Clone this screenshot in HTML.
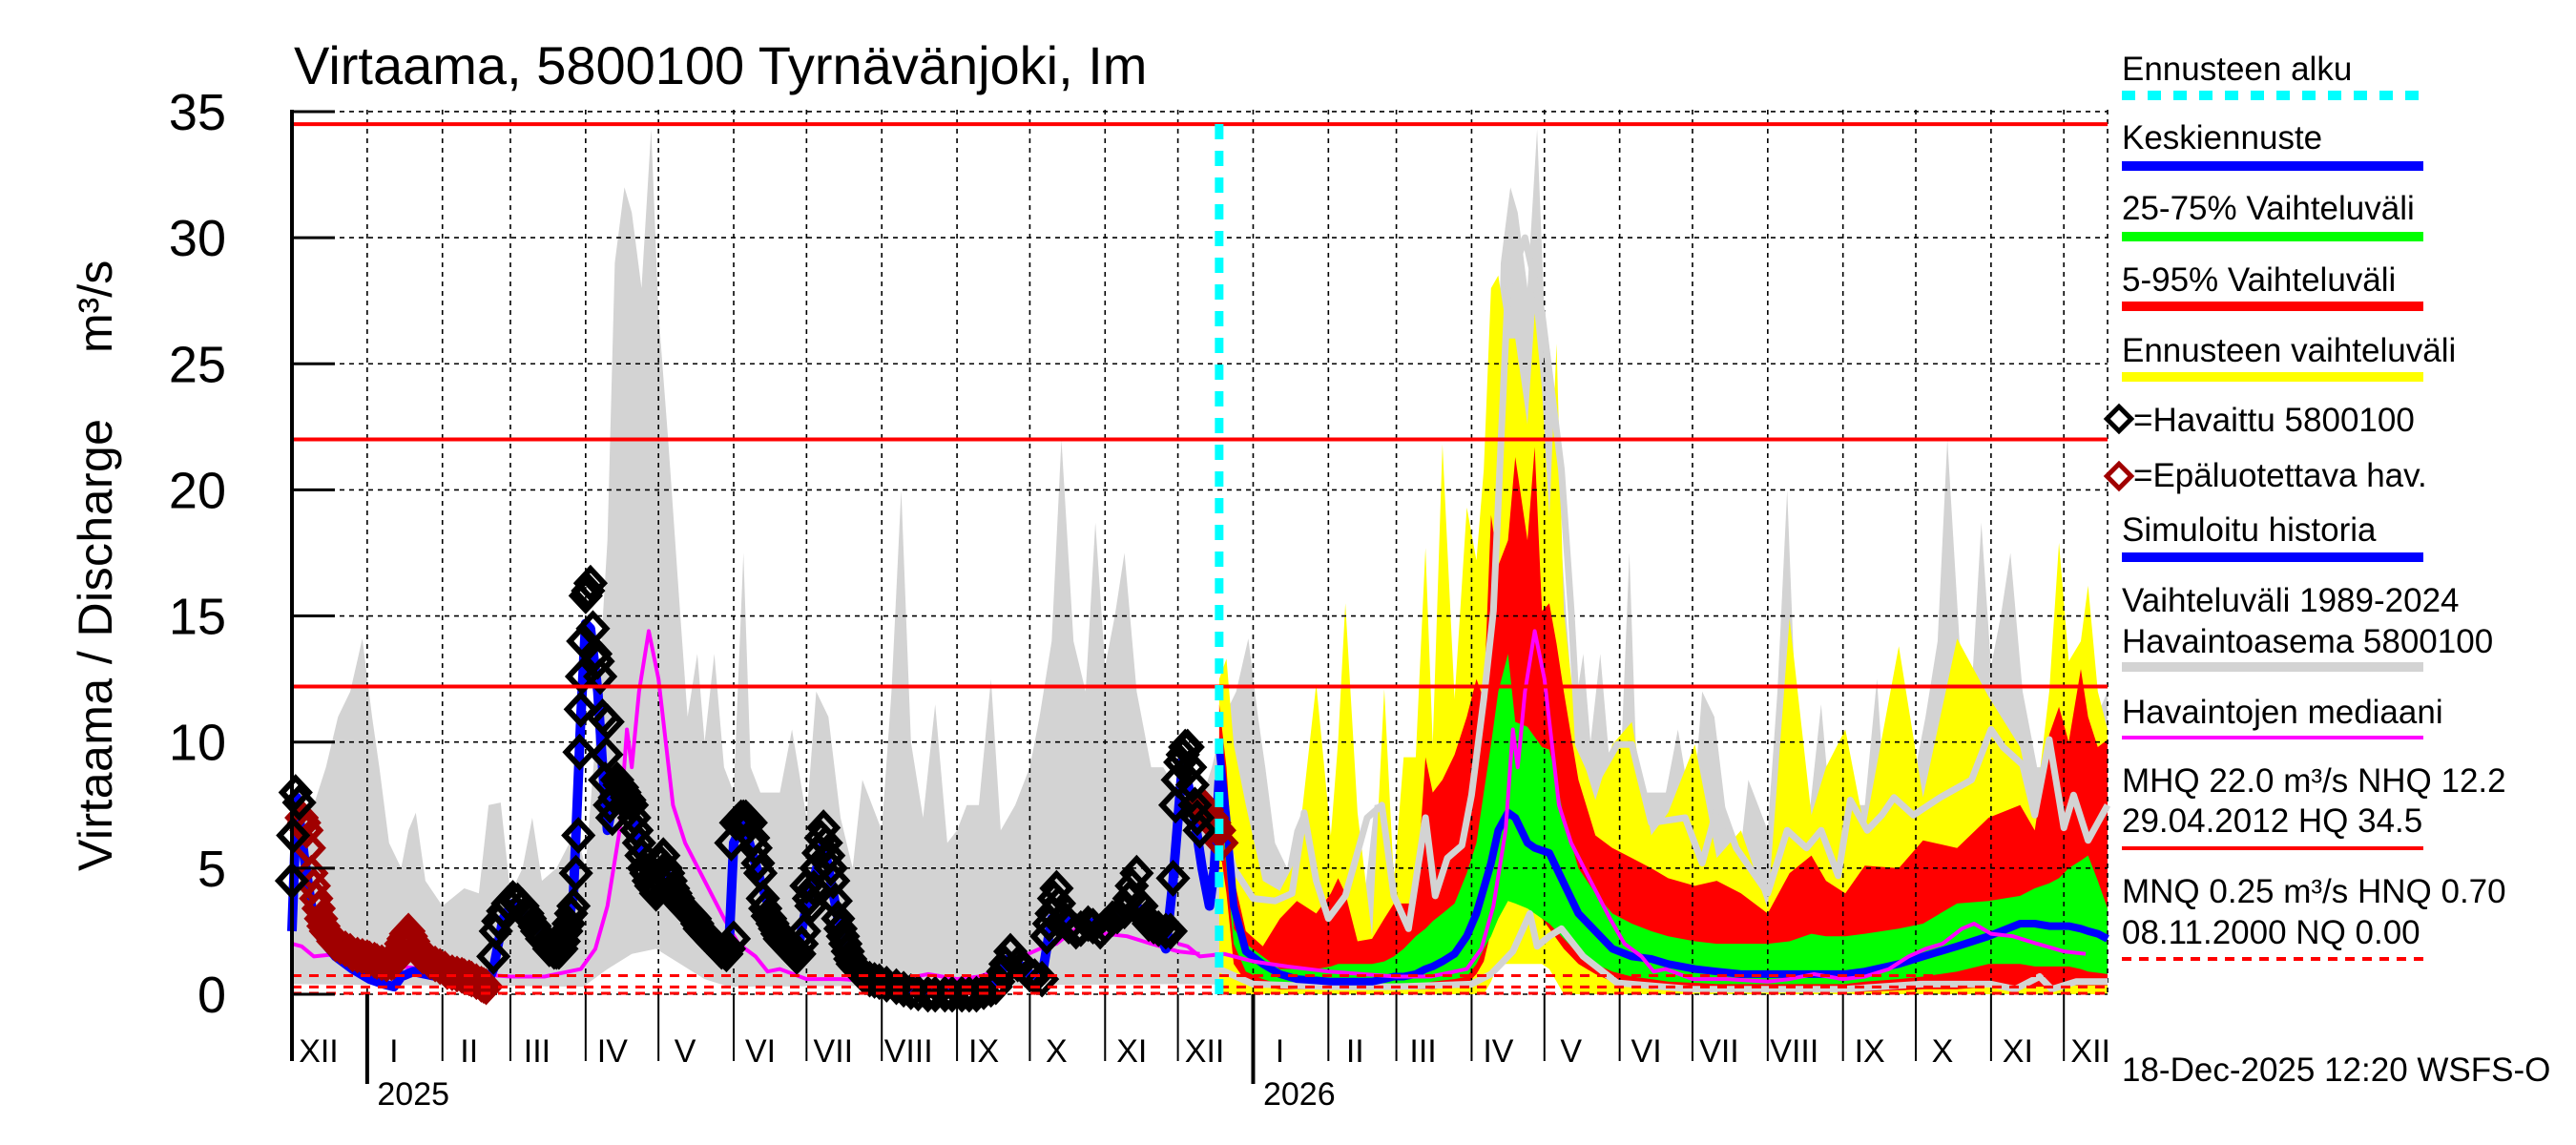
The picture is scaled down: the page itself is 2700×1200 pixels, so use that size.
<!DOCTYPE html>
<html><head><meta charset="utf-8"><title>Virtaama 5800100 Tyrnävänjoki</title>
<style>html,body{margin:0;padding:0;background:#fff;}svg{display:block;font-family:"Liberation Sans",Arial,sans-serif;}</style>
</head><body>
<svg id="chart" xmlns="http://www.w3.org/2000/svg" width="2700" height="1200" viewBox="0 0 2700 1200">
<rect x="0" y="0" width="2700" height="1200" fill="#fff"/>
<text x="308" y="88" font-size="56">Virtaama, 5800100 Tyrnävänjoki, Im</text>
<text transform="translate(117,913) rotate(-90)" font-size="50" textLength="474">Virtaama / Discharge</text>
<text transform="translate(117,370) rotate(-90)" font-size="50">m³/s</text>
<g id="plot"></g>
<g id="legend" font-size="35">
<text x="2224" y="84">Ennusteen alku</text>
<line x1="2224" y1="100" x2="2540" y2="100" stroke="#00ffff" stroke-width="10" stroke-dasharray="14,13"/>
<text x="2224" y="156">Keskiennuste</text>
<line x1="2224" y1="174" x2="2540" y2="174" stroke="#0000ff" stroke-width="10"/>
<text x="2224" y="230">25-75% Vaihteluväli</text>
<line x1="2224" y1="248" x2="2540" y2="248" stroke="#00ff00" stroke-width="10"/>
<text x="2224" y="305">5-95% Vaihteluväli</text>
<line x1="2224" y1="321" x2="2540" y2="321" stroke="#ff0000" stroke-width="10"/>
<text x="2224" y="379">Ennusteen vaihteluväli</text>
<line x1="2224" y1="395" x2="2540" y2="395" stroke="#ffff00" stroke-width="10"/>
<rect x="2212" y="430" width="18" height="18" transform="rotate(45 2221 439)" fill="none" stroke="#000" stroke-width="5"/>
<text x="2236" y="452">=Havaittu 5800100</text>
<rect x="2212" y="490" width="18" height="18" transform="rotate(45 2221 499)" fill="none" stroke="#a00000" stroke-width="5"/>
<text x="2236" y="510">=Epäluotettava hav.</text>
<text x="2224" y="567">Simuloitu historia</text>
<line x1="2224" y1="584" x2="2540" y2="584" stroke="#0000ff" stroke-width="10"/>
<text x="2224" y="641">Vaihteluväli 1989-2024</text>
<text x="2224" y="684">Havaintoasema 5800100</text>
<line x1="2224" y1="699" x2="2540" y2="699" stroke="#d3d3d3" stroke-width="10"/>
<text x="2224" y="758">Havaintojen mediaani</text>
<line x1="2224" y1="773" x2="2540" y2="773" stroke="#ff00ff" stroke-width="4"/>
<text x="2224" y="830">MHQ 22.0 m³/s NHQ 12.2</text>
<text x="2224" y="872">29.04.2012 HQ 34.5</text>
<line x1="2224" y1="889" x2="2540" y2="889" stroke="#ff0000" stroke-width="4"/>
<text x="2224" y="946">MNQ 0.25 m³/s HNQ 0.70</text>
<text x="2224" y="989">08.11.2000 NQ 0.00</text>
<line x1="2224" y1="1005" x2="2540" y2="1005" stroke="#ff0000" stroke-width="4" stroke-dasharray="10,8"/>
<text x="2224" y="1133">18-Dec-2025 12:20 WSFS-O</text>
</g>
</svg>
<script>
// Days counted from 2024-12-01
const climDays = [0,4,9,14,19,24,29,33,36,40,45,48,51,55,62,71,77,81,86,90,95,99,103,109,117,121,125,130,133,137,140,144,148,151,155,160,163,167,170,174,178,182,186,189,193,201,206,212,216,221,226,231,235,243,247,251,255,260,265,270,274,278,283,288,292,298,304,308,313,317,322,327,331,335,339,343,348,354,359,365];
const climMax = [6.5,7.3,7.5,9,11,12,14.1,11,9,6,5,6.5,7.2,4.5,3.5,4.2,4,7.5,7.6,4,5,7,4.5,5,6.5,5,10,18,29,32,31,28,34.3,27,22,15,11,13.5,10,13.5,9,8,17.5,9,8,8,10.5,7,12,11,7,5,8.5,6.5,12,20,10,7,11.5,6,6.5,7.5,7.5,12.5,6.5,7.5,9,11,14,22,14,12,18.7,13,15,17.5,12,9,9,8];
const climMinDays = [0,120,130,140,150,160,170,180,365];
const climMin = [0.4,0.3,1.0,1.6,1.8,1.2,0.6,0.3,0.4];
const medDays = [0,4,9,19,31,45,62,76,90,104,119,125,130,135,138,140,143,147,151,154,157,162,170,178,184,191,196,201,212,226,243,252,262,274,283,293,301,308,315,323,328,335,344,354,365,374];
const medVals = [2.0,1.9,1.5,1.6,1.3,1.1,0.9,0.8,0.7,0.7,1.0,1.8,3.5,6.5,10.5,9,12,14.4,12.5,10,7.5,6,4.5,3,2.0,1.5,0.9,1.0,0.6,0.6,0.5,0.6,0.8,0.6,0.7,1.0,1.5,1.8,2.0,2.6,2.8,2.4,2.3,2.0,1.7,1.6];
const obsDays = [0,0.5,1.5,3,83,84,85,87,89,91,93,95,97,98,100,101,103,105,106,108,109,110,111,112,113,114,115,116,117,118,118.5,119,119.5,120,121,122,123,124,125,126,127,128,129,129.5,130,131,132,133,134,135,136,137,138,139,140,141,142,143,144,145,146,147,148,149,150,151,152,153,154,155,156,157,158,159,160,161,162,163,164,165,166,167,168,169,170,171,172,173,174,175,176,177,178,179,180,181,182,183,184,185,186,187,188,189,190,191,192,193,194,195,196,197,198,199,200,201,202,203,204,205,206,207,208,209,210,211,212,213,214,215,216,217,218,219,220,221,222,223,224,225,226,227,228,229,230,231,232,233,234,235,236,238,240,242,245,249,252,255,258,262,265,269,272,276,279,282,285,288,290,291,293,294,296,299,302,304,306,309,311,312,313,314,315,316,318,320,323,325,328,330,333,335,338,340,343,345,346,348,350,352,353,355,357,360,362,363,364,365,366,367,368,369,370,371,372,373,374];
const obsVals = [4.5,6.3,8.0,7.6,1.5,2.5,2.9,3.3,3.6,3.8,3.7,3.5,3.2,3.0,2.7,2.5,2.2,2.0,1.8,1.7,1.7,1.7,1.8,2.1,2.5,2.8,3.2,3.5,4.8,6.3,9.6,11.3,12.6,14,15.8,16,16.3,14.5,13.5,13.2,12.6,11.0,8.5,9.5,10.8,7.5,7.0,7.8,8.5,8.3,8.2,8.0,7.8,7.7,7.5,7,6.5,6,5.5,5,4.8,4.5,4.3,4.2,4.0,4.6,5.2,5.5,5.0,4.8,4.5,4.2,4,3.8,3.6,3.5,3.4,3.3,3.2,3.1,3,2.8,2.6,2.5,2.4,2.3,2.2,2.1,2.0,1.9,1.8,1.7,1.7,1.6,1.8,6.0,2.2,6.8,6.9,7,7.0,7,6.9,6.8,6.2,5.8,5.2,4.8,3.8,3.4,3.1,3,2.8,2.6,2.4,2.2,2.1,2,1.9,1.8,1.7,1.6,1.5,1.6,2,2.5,4.3,3.8,3.5,4.2,5.0,5.6,6.2,6.6,6,5.5,5,4.5,3.7,3.0,2.6,2.3,2.0,1.7,1.4,1.2,1.1,1,0.9,0.8,0.7,0.6,0.55,0.5,0.4,0.3,0.2,0.1,0.05,0.0,0,0.0,0,0.0,0,0.0,0.1,0.2,0.3,0.5,0.9,1.2,1.7,1.2,1.0,0.8,0.7,0.6,2.3,2.8,3.2,3.8,4.2,3.6,3.0,2.7,2.5,2.6,2.8,2.7,2.5,2.7,3.0,3.1,3.3,3.8,4.3,4.8,3.5,3.0,2.8,2.7,2.6,2.5,2.5,4.6,7.5,8.5,9.2,9.5,9.8,9.8,9.0,8.3,7.5,7,6.5];
const badDays = [4,5,6,7,8,9,10,11,12,13,14,15,16,17,18,20,22,24,25,27,29,31,32,34,35,37,39,41,42,44,45,46,47,48,49,50,51,52,54,56,57,59,61,63,64,66,68,70,71,73,74,76,78,79,80,375,376,377,378,379,380,381,382,383];
const badVals = [7.0,6.8,6.5,5.8,4.8,4.3,3.8,3.4,3.0,2.7,2.5,2.4,2.3,2.1,2.0,1.9,1.8,1.7,1.6,1.55,1.5,1.45,1.4,1.35,1.3,1.25,1.2,1.25,1.3,1.6,2.0,2.2,2.4,2.5,2.3,2.1,1.8,1.7,1.5,1.4,1.3,1.2,1.1,1.0,0.9,0.85,0.8,0.75,0.7,0.65,0.6,0.5,0.4,0.35,0.3,7.5,7.4,7.3,7.1,7.0,6.8,6.6,6.5,6.0];
const simDays = [0,2,5,8,12,18,25,32,38,42,45,50,60,70,80,83,87,91,98,108,113,116,119,121,123,126,128,130,133,140,147,153,164,174,180,182,186,193,201,208,212,219,225,231,242,255,262,288,296,304,309,313,318,328,338,348,357,360,363,367,371,375,378,380,382];
const simVals = [2.5,7.8,5.5,3.5,2.2,1.5,1.0,0.6,0.4,0.3,0.7,0.9,0.7,0.5,0.3,1.0,3.0,3.6,3.0,1.8,2.3,4,11,14.7,14.5,12,9,6.5,8,7.3,4.5,5,3.2,2.0,1.8,6.0,6.8,4.5,2.2,1.6,3.5,6.0,3.0,1.2,0.5,0.2,0.1,0.2,1.5,0.8,0.7,3.0,3.0,2.8,3.0,3.5,2.5,1.8,4.5,9.3,7.5,5.0,3.5,5,8.5];
const fcDays = [382,385,388,393,400,407,414,422,428,431,434,439,445,450,454,458,463,467,470,474,479,484,488,491,494,497,501,504,509,512,515,518,521,524,530,537,544,552,560,567,578,587,597,608,617,626,632,640,648,662,672,686,699,712,718,724,728,732,737,740,744,748];
const fcYellowMax = [12.5,13.3,9.9,7.5,4.5,4.1,5.4,12.3,6.3,10,15.5,7.2,2.3,12.1,4.5,9.4,9.4,17.7,9.9,21.8,11.7,19.3,17.2,20.8,28,28.5,26,26,22.6,27,24,18.9,25.8,15.2,9.9,7.7,9.9,10.8,6.3,7.2,9.9,5.4,6.5,3.4,14.9,7.1,9,10.5,6.5,13.8,7.8,14.1,11.8,9.8,7.1,12,17.9,13.2,14,16.2,12,10.5];
const fcYellowMin = [0,0,0,0,0,0,0,0,0,0,0,0,0,0,0,0,0,0,0,0,0,0,0,0,0.5,1.2,1.2,1.2,1.2,1.2,1.2,1.0,0.5,0,0,0,0,0,0,0,0,0,0,0,0,0,0,0,0,0,0,0,0,0,0,0,0,0,0,0,0,0];
const fcRedMax = [11.5,9,4.6,2.5,1.9,3.0,3.7,3.2,4.0,4.6,4,2.1,2.2,3.0,3.6,3.6,3.6,9.4,8,8.5,9.5,11,12.5,11.7,19,17,18,21.3,18,21.7,15.2,15.5,13.9,12,8.5,6.3,5.8,5.4,5,4.6,4.3,4.5,4.0,3.2,4.8,5.5,4.5,4.0,5.1,5.0,6.1,5.8,7.0,7.5,6.5,10.3,11.4,10,12.9,11,9.8,10.1];
const fcGreenMax = [10,7,2.6,2.0,1.5,1.0,1.0,1.0,1.1,1.2,1.2,1.2,1.2,1.3,1.5,1.8,2.3,2.6,2.9,3.2,3.6,4.8,6,8,9.9,12,13.5,10.8,10.6,10.2,9.8,9.7,8.5,7,5,4.0,3.2,2.8,2.5,2.3,2.1,2.0,2.0,2.0,2.1,2.4,2.3,2.3,2.4,2.6,2.8,3.6,3.7,3.9,4.2,4.4,4.6,5.0,5.3,5.5,4.5,3.4];
const fcMedian = [9.8,7,3.5,1.7,1.2,0.8,0.6,0.55,0.5,0.5,0.5,0.5,0.5,0.6,0.7,0.7,0.8,1.0,1.1,1.3,1.6,2.3,3.2,4.2,5.2,6.5,7.2,7.0,6.0,5.8,5.7,5.6,5.0,4.4,3.2,2.5,1.8,1.5,1.4,1.2,1.0,0.9,0.8,0.8,0.8,0.8,0.8,0.8,0.9,1.2,1.5,1.9,2.3,2.8,2.8,2.7,2.7,2.7,2.6,2.5,2.4,2.2];
const fcGreenMin = [8,5,2.0,0.9,0.6,0.4,0.35,0.3,0.3,0.3,0.3,0.3,0.3,0.3,0.35,0.35,0.4,0.45,0.5,0.55,0.6,0.7,1.2,1.8,2.3,3.0,3.7,3.6,3.4,3.2,3.0,2.8,2.5,2.2,1.6,1.2,0.9,0.7,0.6,0.5,0.45,0.4,0.4,0.4,0.4,0.4,0.4,0.4,0.5,0.6,0.7,0.9,1.2,1.2,1.1,1.1,1.1,1.1,1.0,0.9,0.85,0.8];
const fcRedMin = [6,4,1.2,0.5,0.3,0.2,0.2,0.2,0.2,0.2,0.2,0.2,0.2,0.2,0.2,0.2,0.2,0.2,0.2,0.25,0.3,0.4,0.8,1.3,2.5,3.7,3.9,3.9,3.7,3.4,3.0,2.6,2.2,1.8,1.2,0.8,0.5,0.3,0.2,0.2,0.15,0.15,0.15,0.1,0.1,0.1,0.1,0.1,0.1,0.15,0.2,0.2,0.3,0.3,0.3,0.3,0.35,0.35,0.35,0.35,0.35,0.35];
const grayHiDays = [382,388,396,405,412,417,422,427,434,443,449,454,460,467,471,476,482,486,491,495,498,501,508,515,523,527,530,537,546,552,560,574,581,588,595,600,608,616,624,630,637,642,649,655,660,668,679,692,700,705,713,718,724,730,734,740,748];
const grayHiVals = [7.5,5,3.8,3.7,4,7.2,4.5,3.0,3.9,7.0,7.5,3.9,2.6,7.0,3.9,5.4,5.9,7.9,11.7,15.2,21.7,28,30,27,20.8,15.2,9.9,8.4,9.9,9.9,6.8,7,5.2,7.7,5.8,5.1,4.0,6.5,5.8,6.5,4.7,7.7,6.5,7.1,7.8,7.1,7.8,8.5,10.5,9.8,9.1,7.1,10.1,6.6,7.9,6.1,7.5];
const grayLoDays = [382,396,427,455,486,494,503,510,513,518,523,532,546,577,639,671,700,710,720,725,735,748];
const grayLoVals = [1,0.4,0.3,0.3,0.4,0.8,1.7,3.2,1.9,2.3,2.6,1.5,0.45,0.2,0.2,0.4,0.4,0.2,0.7,0.2,0.5,0.5];
const refLevels = [34.5,22.0,12.2];
const lowLevels = [0.70,0.25,0.0];
const yTicks = [0,5,10,15,20,25,30,35];
const monthStarts = [0,31,62,90,121,151,182,212,243,274,304,335,365,396,427,455,486,516,547,577,608,639,669,700,730];
const monthNames = ["XII","I","II","III","IV","V","VI","VII","VIII","IX","X","XI","XII","I","II","III","IV","V","VI","VII","VIII","IX","X","XI","XII"];
const yearDays = [31,396];
const yearNames = ["2025","2026"];
const forecastStartDay = 382;
const SEASON = 365;

const X0=306, X1=2209, Y0=1042, YTOP=115, DAYS=748;
function xOf(d){return X0 + d*(X1-X0)/DAYS;}
function yOf(v){return Y0 - v*26.43;}
const NS="http://www.w3.org/2000/svg";
const plot=document.getElementById('plot');
function mk(tag,attrs,parent){const e=document.createElementNS(NS,tag);for(const k in attrs)e.setAttribute(k,attrs[k]);(parent||plot).appendChild(e);return e;}
function pts(days,vals){return days.map((d,i)=>xOf(d).toFixed(1)+','+yOf(vals[i]).toFixed(1));}
function clip(days,vals,lo,hi){const D=[],V=[];days.forEach((d,i)=>{if(d>=lo&&d<=hi){D.push(d);V.push(vals[i]);}});return [D,V];}

// climatology gray band for two seasons
for(let s=0;s<2;s++){
  const dH=climDays.map(d=>d+s*SEASON), dL=climMinDays.map(d=>d+s*SEASON);
  const [hD,hV]=clip(dH,climMax,0,DAYS), [lD,lV]=clip(dL,climMin,0,DAYS);
  if(s===1){hD.push(DAYS);hV.push(climMax[5]);lD.push(DAYS);lV.push(climMin[0]);}
  const p=pts(hD,hV).concat(pts(lD,lV).reverse());
  const g=mk('polygon',{points:p.join(' '),fill:'#d3d3d3'});
  
  
}
// forecast bands
function band(lo,hi,color,name){
  const p=pts(fcDays,hi).concat(pts(fcDays,lo).reverse());
  const e=mk('polygon',{points:p.join(' '),fill:color});
  
  
}
band(fcYellowMin,fcYellowMax,'#ffff00','forecast-range-band');
band(fcRedMin,fcRedMax,'#ff0000','band-5-95');
band(fcGreenMin,fcGreenMax,'#00ff00','band-25-75');

// grid
const grid=mk('g',{stroke:'#000','stroke-width':'1.6','stroke-dasharray':'5,5',fill:'none'});


yTicks.forEach(v=>{const l=mk('line',{x1:X0,x2:X1,y1:yOf(v),y2:yOf(v)},grid);});
monthStarts.forEach(d=>{const l=mk('line',{x1:xOf(d),x2:xOf(d),y1:YTOP,y2:Y0},grid);});
const rb=mk('line',{x1:X1,x2:X1,y1:YTOP,y2:Y0},grid);



function line(days,vals,color,w,name){
  const e=mk('polyline',{points:pts(days,vals).join(' '),fill:'none',stroke:color,'stroke-width':w,'stroke-linejoin':'round'});
  
  
  return e;
}
line(grayHiDays,grayHiVals,'#d3d3d3',7,'forecast-gray-upper-line');
line(grayLoDays,grayLoVals,'#d3d3d3',7,'forecast-gray-lower-line');
line(fcDays,fcMedian,'#0000ff',8,'median-forecast-line');
for(let s=0;s<2;s++){
  const [d,v]=clip(medDays.map(x=>x+s*SEASON),medVals,0,DAYS);
  line(d,v,'#ff00ff',4,'observed-median-line');
}
line(simDays,simVals,'#0000ff',10,'simulated-history-line');

function diamonds(days,vals,color,name){
  const g=mk('g',{fill:'none',stroke:color,'stroke-width':'6'});
  
  
  days.forEach((d,i)=>{const x=xOf(d),y=yOf(vals[i]);
    const p=mk('polygon',{points:`${x},${y-15} ${x+14},${y} ${x},${y+15} ${x-14},${y}`},g);
    
    
  });
}
diamonds(badDays,badVals,'#a00000','unreliable-observations');
diamonds(obsDays,obsVals,'#000','observed-discharge');

refLevels.forEach(v=>{const l=mk('line',{x1:X0,x2:X1,y1:yOf(v),y2:yOf(v),stroke:'#ff0000','stroke-width':'4'});});
lowLevels.forEach(v=>{const l=mk('line',{x1:X0,x2:X1,y1:yOf(v)-1,y2:yOf(v)-1,stroke:'#ff0000','stroke-width':'3','stroke-dasharray':'10,8'});});

const fs=mk('line',{x1:xOf(forecastStartDay),x2:xOf(forecastStartDay),y1:YTOP+15,y2:Y0,stroke:'#00ffff','stroke-width':'9','stroke-dasharray':'16,12'});



const ax=mk('line',{x1:X0,x2:X0,y1:YTOP,y2:1112,stroke:'#000','stroke-width':'4'});


yTicks.forEach(v=>{
  const t=mk('line',{x1:X0,x2:X0+45,y1:yOf(v),y2:yOf(v),stroke:'#000','stroke-width':'3'});
  
  
  const tx=mk('text',{x:237,y:yOf(v)+19,'font-size':'54','text-anchor':'end'});
  tx.textContent=String(v);
  
  
});
monthStarts.forEach((d,i)=>{
  if(d>0){const t=mk('line',{x1:xOf(d),x2:xOf(d),y1:Y0,y2:1112,stroke:'#000','stroke-width':'2'});
  
  }
  const tx=mk('text',{x:xOf(d+11),y:1113,'font-size':'34','text-anchor':'middle'});
  tx.textContent=monthNames[i];
  
  
});
yearDays.forEach((d,i)=>{
  const t=mk('line',{x1:xOf(d),x2:xOf(d),y1:Y0,y2:1136,stroke:'#000','stroke-width':'4'});
  
  
  const tx=mk('text',{x:xOf(d+19),y:1158,'font-size':'34','text-anchor':'middle'});
  tx.textContent=yearNames[i];
  
  
});
</script>
</body></html>
